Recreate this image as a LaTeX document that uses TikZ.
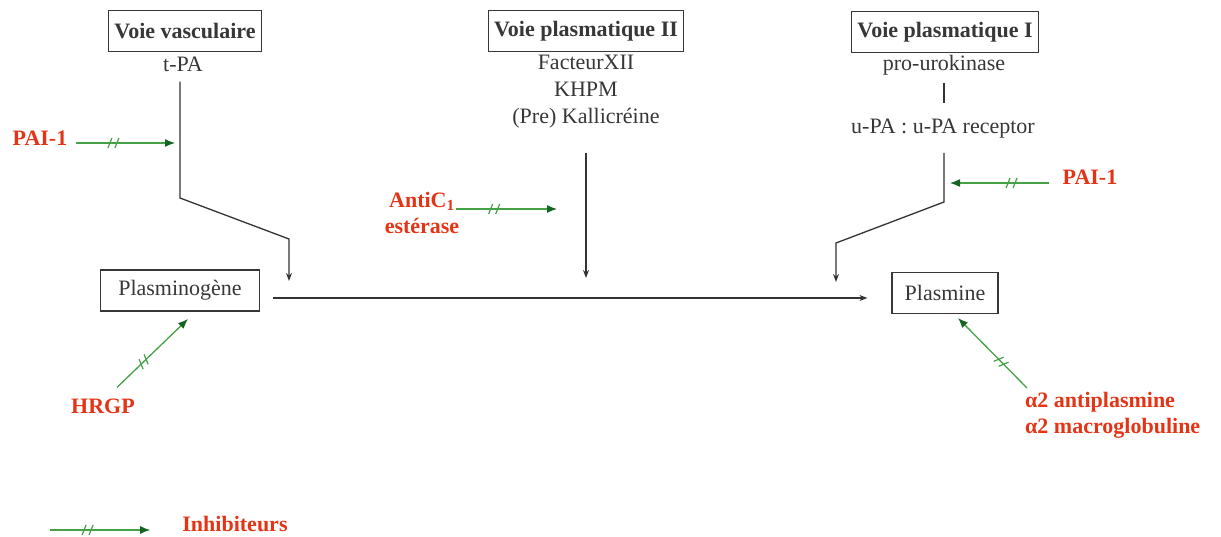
\documentclass[tikz,border=0pt]{standalone}
\usepackage{fontspec}
\setmainfont{Liberation Serif}
\usetikzlibrary{arrows.meta,decorations.markings,calc}
\definecolor{inkgray}{RGB}{55,55,55}
\definecolor{inhred}{RGB}{228,52,22}
\definecolor{inhgreen}{RGB}{70,160,70}
\definecolor{tipgreen}{RGB}{20,100,35}
\begin{document}
\begin{tikzpicture}[x=1pt,y=-1pt,
  every node/.style={font=\fontsize{22}{27}\selectfont, text=inkgray, inner sep=0pt},
  pathbox/.style={draw=inkgray, line width=1.2pt, minimum height=41pt, inner xsep=6pt,
    font=\fontsize{22}{27}\selectfont\bfseries},
  stagebox/.style={draw=inkgray, line width=1.2pt, minimum height=41pt},
  inhlabel/.style={text=inhred, font=\fontsize{22}{26}\selectfont\bfseries},
  flow/.style={draw=black!80, line width=1.3pt, -{Stealth[length=8pt,width=6pt]}},
  plainline/.style={draw=black!80, line width=1.3pt},
  inhib/.style={draw=inhgreen, line width=1.3pt,
    -{Latex[length=10pt,width=8pt,fill=tipgreen,color=tipgreen]},
    postaction={decorate},
    decoration={markings, mark=at position 0.38 with
      {\draw[inhgreen, line width=1.2pt, arrows=-] (-6,5)--(-2,-5) (1,5)--(5,-5);}}},
]
\useasboundingbox (0,0) rectangle (1221,537);

% pathways
\node[pathbox] (vasc) at (185,31) {Voie vasculaire};
\node (tpa) at (183,64) {t-PA};
\node[pathbox] (pl2) at (586,31) {Voie plasmatique II};
\node[align=center] (f12) at (586,92) {FacteurXII\\KHPM\\(Pre) Kallicréine};
\node[pathbox] (pl1) at (945,32) {Voie plasmatique I};
\node (prouk) at (944,65) {pro-urokinase};
\node (upa) at (943,129) {u-PA : u-PA receptor};

% central stages
\node[stagebox, minimum width=159pt] (plg) at (180,290.5) {Plasminogène};
\node[stagebox, minimum width=106pt] (plm) at (945,293) {Plasmine};

% bend points of the activation routes
\coordinate (l1) at (180,198);
\coordinate (l2) at (289,239);
\coordinate (l3) at (289,281);
\coordinate (m3) at (586,278);
\coordinate (r1) at (944,202);
\coordinate (r2) at (836,243);
\coordinate (r3) at (836,282);

\draw[plainline, shorten <=8pt, shorten >=16pt] (prouk.south) -- (prouk.south |- upa.north);
\draw[flow, shorten <=10pt] (tpa.south -| l1) -- (l1) -- (l2) -- (l3);
\draw[flow, shorten <=24pt] (f12.south) -- (m3);
\draw[flow, shorten <=14pt] (upa.south -| r1) -- (r1) -- (r2) -- (r3);
\draw[flow] ([xshift=13pt,yshift=-7.5pt]plg.east) -- ([xshift=-24pt,yshift=-5pt]plm.west);

% inhibitors
\node[inhlabel] (pai1) at (40,138) {PAI-1};
\coordinate (t1) at (175,143);
\draw[inhib] ($(pai1.east |- t1)+(9,0)$) -- (t1);

\node[inhlabel, align=center] (antic) at (422,213) {AntiC\textsubscript{1}\\estérase};
\coordinate (t2) at (557,209);
\draw[inhib] ($(antic.east |- t2)+(-3,0)$) -- (t2);

\node[inhlabel] (pai1r) at (1090,177) {PAI-1};
\coordinate (t4) at (950,183);
\draw[inhib] ($(pai1r.west |- t4)+(-14,0)$) -- (t4);

\node[inhlabel] (hrgp) at (103,406) {HRGP};
\coordinate (t3) at (188,319);
\draw[inhib] ($(hrgp.north)+(14,-11)$) -- (t3);

\node[inhlabel, align=left, anchor=north west] (a2) at (1025,392)
  {α2 antiplasmine\\α2 macroglobuline};
\coordinate (t5) at (958,318);
\draw[inhib] ($(a2.north west)+(2,-4)$) -- (t5);

% legend
\coordinate (legs) at (50,530);
\node[inhlabel] (inh) at (235,524) {Inhibiteurs};
\draw[inhib] (legs) -- ($(inh.west |- legs)+(-32,0)$);
\end{tikzpicture}
\end{document}
